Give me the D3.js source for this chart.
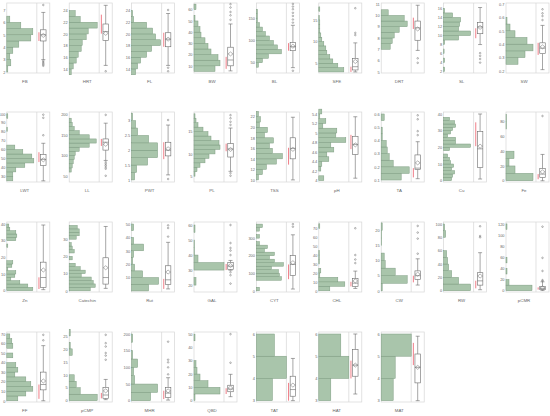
<!DOCTYPE html>
<html lang="en">
<head>
<meta charset="UTF-8">
<title>Distributions</title>
<script src="https://d3js.org/d3.v7.min.js"></script>
<style>
  body { margin: 0; background: #fff; }
  text { font-family: 'Liberation Sans', Arial, sans-serif; fill: #666; }
  .name { font-size: 4.4px; text-anchor: middle; }
</style>
</head>
<body>
<script>
// variable names, row by row
const labels = ["FB","HRT","FL","BW","BL","SFE","DRT","SL","SW",
  "LWT","LL","PWT","PL","TSS","pH","TA","Cu","Fe",
  "Zn","Catechin","Rut","GAL","CYT","CHL","CW","RW","pCMR",
  "FF","pCMP","MHR","QBD","TAT","HAT","MAT"];

// axis range [bottom, top] and tick labels of each panel
const yDomains = [[1.92,7.56],[13.3,25.3],[13.3,25.3],[3.6,66],[27,184],[2.75,18.9],[4.9,11.1],[1.7,17.2],[0.185,0.707],
  [23.7,102],[36,205],[0.93,3.29],[3.7,19.4],[9.6,22.9],[3.97,5.44],[0.085,0.615],[-0.8,41.2],[-1.7,93],
  [-0.8,41.2],[-0.7,40],[-0.8,51.5],[15.4,62],[-7,392],[-1.4,77],[-0.4,22.8],[-1.9,103],[-2.3,123.4],
  [-1.3,72],[-0.5,26.5],[-3.8,206],[-1,51.6],[2.94,6.09],[2.94,6.09],[2.94,6.09]];
const tickVals = [[2,3,4,5,6,7],[14,16,18,20,22,24],[14,16,18,20,22,24],[10,20,30,40,50,60],[50,100,150],[5,10,15],
  [5,6,7,8,9,10,11],[2,4,6,8,10,12,14,16],[0.2,0.3,0.4,0.5,0.6,0.7],
  [30,40,50,60,70,80,90,100],[50,100,150,200],[1,1.5,2,2.5,3],[5,10,15],[10,12,14,16,18,20,22],
  [4,4.2,4.4,4.6,4.8,5,5.2,5.4],[0.1,0.2,0.3,0.4,0.5,0.6],[0,10,20,30,40],[0,20,40,60,80],
  [0,10,20,30,40],[0,10,20,30],[10,20,30,40,50],[20,30,40,50,60],[0,100,200,300],[0,10,20,30,40,50,60,70],
  [0,5,10,15,20],[0,20,40,60,80,100],[0,20,40,60,80,100,120],
  [0,10,20,30,40,50,60,70],[0,5,10,15,20,25],[0,50,100,150,200],[0,10,20,30,40,50],[3,4,5,6],[3,4,5,6],[3,4,5,6]];

// histograms: first bin edge, bin width, counts from the bottom bin up
const binStart = [2,13,13,5,40,3,7,2,0.25, 25,60,1,5,10,4,0.1,0,0, 0,0,0,20,0,0,0,0,0, 0,0,0,0,3,3,3];
const binStep = [0.5,1,1,5,10,1,0.5,1,0.05, 5,10,0.25,1,1,0.1,0.05,2,10, 2,2,5,5,20,5,2.5,10,10, 5,2.5,25,5,1,1,1];
const binCounts = [
  [1,4,3,6,12,24,26,14,3],
  [2,4,7,9,12,13,17,19,28,11,6],
  [4,6,9,15,20,29,24,21,15,2,1],
  [21,26,24,17,14,11,7,6,4,1,0,2],
  [2,6,12,25,21,17,13,9,6,3,1,1,1],
  [25,19,14,11,8,7,5,3,2,1,1,1,0.5,0,1],
  [9,11,13,18,26,23,7],
  [1,0,1,0,0.5,0,1,15,27,15,16,17,9,1],
  [12,19,27,21,9,4,1],
  [6,6,9,18,27,25,16,8,0,0,0,0.5,0,0,1],
  [2,3,4,5,6,10,20,27,20,10,5,3,2],
  [3,5,16,26,26,17,6,4,1],
  [1,3,6,11,15,21,26,25,17,14,9,4,2,1],
  [2,6,10,20,26,16,13,17,8,11,3,4,2],
  [5,0,2,3,10,8,15,12,27,17,18,4,7,1,3],
  [20,28,12,8,6,5,1,1,0,3],
  [8,9,11,8,10,7,6,4,0,6,27,12,12,4,7,9,12,11,6],
  [27,9,3,8,0,0,0,0.5,0.5],
  [26,21,13,4,8,9,1,5,6,0,0,0,0,1,0,9,10,9,3,2],
  [21,26,24,22,12,16,11,6,0,3,0,5,3,2,0,7,10,10,8],
  [17,27,11,3,1,2,12,2,0,2],
  [2,0,30,4,0.5,0.5,0,1],
  [3,0,0,25,23,22,15,27,18,13,18,8,11,3,0,3,0,3,6],
  [11,26,19,1,2,0,0.5,0.5,0.5,0,0,0,0,0,1],
  [1,26,14,4,3,0,0.5,0.5,1],
  [27,15,8,5,4,3,0,0,2,1],
  [26,3,0,1,0,1,0,0,0,0,0,1],
  [11,19,26,24,19,8,11,9,0,6,0,6,5,3],
  [28,11,7,5,0,0,0,3,1,0,1],
  [19,26,3,2,6,1,0,1],
  [1,26,14,6,3,2,0,0,0,1],
  [16,30,18],
  [12,30,22],
  [12,14,30]];

// box plots: [low whisker, q1, median, q3, high whisker]
const boxStats = [[3,4.5,5,5.4,6.8],[14.6,18.9,20.4,21.7,24.9],[14.6,17.8,19.1,20.2,23.5],[5.5,10,15.2,26.6,47.3],
  [39,77,86,95,134],[3,3.45,4.2,6.1,9.7],[6.9,7.8,8.9,9.5,10.9],[8,10.4,11.9,12.9,16.2],[0.21,0.33,0.37,0.41,0.54],
  [25,42.2,49,54.4,67],[88,113,132,140,178],[1.17,1.81,2,2.27,2.85],[6.1,9.3,11.1,12.3,15.8],[10,14,16,18,21.9],
  [4.05,4.55,4.76,4.93,5.34],[0.11,0.18,0.19,0.29,0.39],[1,7.9,19.1,29.6,40],[0,4.5,9,16.5,35.6],
  [0.6,2,7.9,17.1,39.4],[1.4,3.9,7.7,19.2,37.4],[1.5,4.9,8.3,18.8,36.3],[29.9,30.5,32.6,35,36.4],[10,88,150,200,319],
  [2.6,4.9,8.5,13.7,22],[1.9,3.8,5,6.6,10.6],[1.5,8.4,14.8,27,57],[0.5,1.8,4.3,7.8,16],
  [0,11.4,17,30,57.7],[0.4,0.9,2.2,5.1,8.2],[2,10,22.8,39.6,69],[3,6.7,8.7,11.6,19.8],
  [3,3.2,3.5,4.1,4.9],[3.3,4.1,4.6,5.3,6],[3,3.8,4.5,5.1,5.9]];
const means = [4.95,20.1,19.1,20.6,87,5.4,8.8,11.8,0.38, 48.5,127,2.05,11,15.8,4.75,0.23,20.7,12,
  12.4,13.4,14.1,33,160,11,5.5,22,5, 20.7,3.8,29.6,9.5,3.7,4.6,4.5];
const outliers = [[7.4,2.9,2.8,2.7,2.6,2.5],[13.6],[24.1,14.2,13.6],[51,55,58,62,65],[140,147,155,162,170,176,182,32],
  [11.5,12,17.7],[6.2,5.8],[6.1,5.5,4.8,4.0],[0.58,0.61,0.63,0.66],
  [76,95.5,99],[198,84,80,76,72,68,51],[3.02,1.03],[16.5,17.2,18,18.7,5.7,5.1],[],[],[0.44,0.47,0.56,0.59],[],[87.6],
  [],[],[40.6,47,49],[60,48,44.7,43,40,28.6,26.6,21],[365,380],[31,35,40,70],[12.3,17.3,19.3,21.5],[80,82,96.6],
  [17.5,19,35.5,59,115],
  [63.3,69],[15.8,17.4,18.4,20.9,22.2,25.4],[79,100,115,123,177],[28.5,50],[],[],[]];
// shortest half bracket [low, high]
const shortHalf = [[4.5,5.2],[20.05,23.3],[17.8,20.2],[7.3,18],[77,94],[3,4.2],[8.8,9.8],[9.4,11.6],[0.32,0.41],
  [46,57],[123,140],[1.7,2.27],[10.6,12.3],[12.9,16.1],[4.66,4.96],[0.12,0.19],[20.7,35],[2,9],
  [1,8],null,[1.5,9],[30,34],[66,150],[4.9,10],[2.8,5],[3.6,15],[2,6],
  [2,17],[0.9,3],[5,30],[5,9.3],[3,3.8],[4,4.8],[4.6,5.6]];

const W = 550, H = 416;
const rowTop = [3, 112, 222, 332];
const panelH = 70, histW = 30, boxW = 13, colStep = 62.4, colLeft = 6.8;

const svg = d3.select("body").append("svg")
  .attr("width", W).attr("height", H);

labels.forEach((name, i) => {
  const row = Math.floor(i / 9), col = i % 9;
  const x0 = colLeft + col * colStep, y0 = rowTop[row];
  const g = svg.append("g");

  const y = d3.scaleLinear().domain(yDomains[i]).range([y0 + panelH, y0]);
  const x = d3.scaleLinear().domain([0, 30]).range([x0, x0 + histW]);

  // frame and divider
  g.append("rect").attr("x", x0).attr("y", y0).attr("width", histW + boxW).attr("height", panelH)
    .attr("fill", "none").attr("stroke", "#d6d6d6").attr("stroke-width", 0.7);
  g.append("line").attr("x1", x0 + histW).attr("x2", x0 + histW).attr("y1", y0).attr("y2", y0 + panelH)
    .attr("stroke", "#d6d6d6").attr("stroke-width", 0.7);

  // axis labels
  const ax = g.append("g").attr("transform", `translate(${x0},0)`)
    .call(d3.axisLeft(y).tickValues(tickVals[i]).tickSize(0).tickPadding(1.5).tickFormat(d => d));
  ax.select(".domain").remove();
  ax.selectAll("text").attr("fill", "#666").attr("font-size", 3.9)
    .style("font-family", "'Liberation Sans', Arial, sans-serif");

  // histogram
  const bins = binCounts[i].map((c, j) => ({ lo: binStart[i] + j * binStep[i], hi: binStart[i] + (j + 1) * binStep[i], c }))
    .filter(b => b.c > 0);
  g.selectAll("rect.bar").data(bins).join("rect").attr("class", "bar")
    .attr("x", x0)
    .attr("y", d => y(d.hi))
    .attr("width", d => x(d.c) - x0)
    .attr("height", d => y(d.lo) - y(d.hi))
    .attr("fill", "#a9c5ab").attr("stroke", "#7d9c80").attr("stroke-width", 0.5);

  // box plot
  const cx = x0 + histW + boxW / 2, bw = 5.5;
  const [lw, q1, md, q3, hw] = boxStats[i];
  const gray = "#6a6a6a";
  g.append("line").attr("x1", cx).attr("x2", cx).attr("y1", y(hw)).attr("y2", y(q3)).attr("stroke", gray).attr("stroke-width", 0.6);
  g.append("line").attr("x1", cx).attr("x2", cx).attr("y1", y(q1)).attr("y2", y(lw)).attr("stroke", gray).attr("stroke-width", 0.6);
  [lw, hw].forEach(v => g.append("line").attr("x1", cx - 2).attr("x2", cx + 2).attr("y1", y(v)).attr("y2", y(v))
    .attr("stroke", gray).attr("stroke-width", 0.6));
  g.append("rect").attr("x", cx - bw / 2).attr("y", y(q3)).attr("width", bw).attr("height", Math.max(0.5, y(q1) - y(q3)))
    .attr("fill", "#fff").attr("stroke", gray).attr("stroke-width", 0.6);
  g.append("line").attr("x1", cx - bw / 2).attr("x2", cx + bw / 2).attr("y1", y(md)).attr("y2", y(md))
    .attr("stroke", gray).attr("stroke-width", 0.6);
  // mean diamond
  const my = y(means[i]), dh = 2, dw = 2.4;
  g.append("path").attr("d", `M${cx - dw},${my}L${cx},${my - dh}L${cx + dw},${my}L${cx},${my + dh}Z`)
    .attr("fill", "none").attr("stroke", gray).attr("stroke-width", 0.5);
  // outliers
  g.selectAll("circle.out").data(outliers[i]).join("circle").attr("class", "out")
    .attr("cx", cx).attr("cy", d => y(d)).attr("r", 0.8)
    .attr("fill", "none").attr("stroke", gray).attr("stroke-width", 0.5);
  // shortest half
  if (shortHalf[i]) {
    g.append("line").attr("x1", cx - bw / 2 - 1.6).attr("x2", cx - bw / 2 - 1.6)
      .attr("y1", y(shortHalf[i][1])).attr("y2", y(shortHalf[i][0]))
      .attr("stroke", "#ee6f7b").attr("stroke-width", 0.9);
  }

  // variable name
  g.append("text").attr("class", "name")
    .attr("x", x0 + 18).attr("y", y0 + panelH + 9.5)
    .text(name);
});
</script>
</body>
</html>
